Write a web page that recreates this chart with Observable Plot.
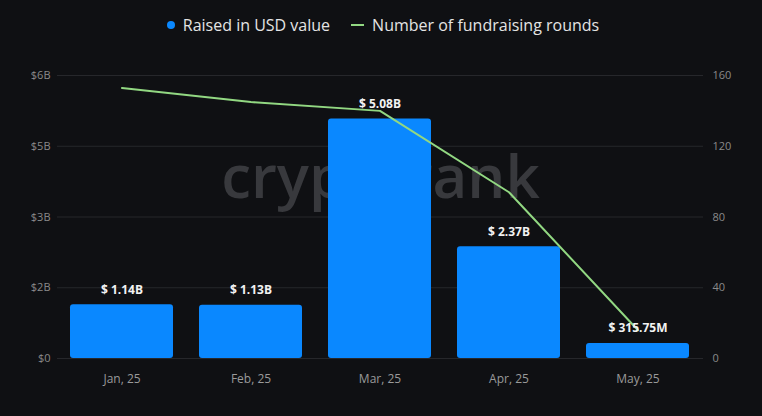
<!DOCTYPE html>
<html>
<head>
<meta charset="utf-8">
<script src="https://cdn.jsdelivr.net/npm/d3@7"></script>
<script src="https://cdn.jsdelivr.net/npm/@observablehq/plot@0.6"></script>
<style>
  html, body { margin: 0; padding: 0; background: #0f1013; }
  body { width: 762px; height: 416px; overflow: hidden; font-family: "Open Sans", sans-serif; }
  #legend { height: 50px; display: flex; align-items: center; justify-content: center; color: #e4e4e4; font-size: 16px; padding-left: 4px; box-sizing: border-box; }
  .item { display: flex; align-items: center; }
  .dot { width: 8px; height: 8px; border-radius: 50%; background: #0a88ff; margin-right: 8px; }
  .sw { width: 13px; height: 2px; background: #92d882; margin-right: 8px; }
</style>
</head>
<body>
<div id="legend">
  <div class="item"><span class="dot"></span><span>Raised in USD value</span></div>
  <div class="item" style="margin-left:21px"><span class="sw"></span><span>Number of fundraising rounds</span></div>
</div>
<div id="chart"></div>
<script>
const months = ["Jan, 25", "Feb, 25", "Mar, 25", "Apr, 25", "May, 25"];
const raisedUSD = [1.14e9, 1.13e9, 5.08e9, 2.37e9, 315.75e6];
const raisedLabels = ["$ 1.14B", "$ 1.13B", "$ 5.08B", "$ 2.37B", "$ 315.75M"];
const rounds = [153, 145, 140, 94, 16];
const leftTicks = [0, 1.5e9, 3e9, 4.5e9, 6e9];
const leftTickLabels = ["$0", "$2B", "$3B", "$5B", "$6B"];
const rightTickLabels = ["0", "40", "80", "120", "160"];
const roundsMax = 160;
const usdMax = 6e9;

const data = months.map((m, i) => ({
  month: m,
  raised: raisedUSD[i],
  label: raisedLabels[i],
  roundsScaled: rounds[i] / roundsMax * usdMax
}));

const chart = Plot.plot({
  width: 762,
  height: 366,
  marginTop: 25,
  marginBottom: 58,
  marginLeft: 57,
  marginRight: 59,
  style: { background: "transparent", fontFamily: "Open Sans, sans-serif", overflow: "visible" },
  x: { domain: months, paddingInner: 0.2, paddingOuter: 0.1, label: null },
  y: { domain: [0, usdMax], label: null },
  marks: [
    Plot.ruleY(leftTicks, { stroke: "#26272b", strokeWidth: 1 }),
    Plot.text(["cryptorank"], { frameAnchor: "top", dy: 80, text: d => d, fill: "#38393d", fontSize: 60, fontWeight: 600 }),
    Plot.barY(data, { x: "month", y: "raised", fill: "#0a88ff", rx: 3 }),
    Plot.line(data, { x: "month", y: "roundsScaled", stroke: "#92d882", strokeWidth: 2 }),
    Plot.text(data, { x: "month", y: "raised", text: "label", dy: -15, fill: "#f2f2f2", fontWeight: "bold", fontSize: 12 }),
    Plot.axisY({ anchor: "left", ticks: leftTicks, tickFormat: d => leftTickLabels[leftTicks.indexOf(d)], tickSize: 0, tickPadding: 7, fill: "#8a8a8a", fontSize: 11, label: null }),
    Plot.axisY({ anchor: "right", ticks: leftTicks, tickFormat: d => rightTickLabels[leftTicks.indexOf(d)], tickSize: 0, tickPadding: 9, fill: "#8a8a8a", fontSize: 11, label: null }),
    Plot.axisX({ tickSize: 0, tickPadding: 16, fill: "#9a9a9a", fontSize: 12, label: null })
  ]
});
document.getElementById("chart").appendChild(chart);
</script>
</body>
</html>
